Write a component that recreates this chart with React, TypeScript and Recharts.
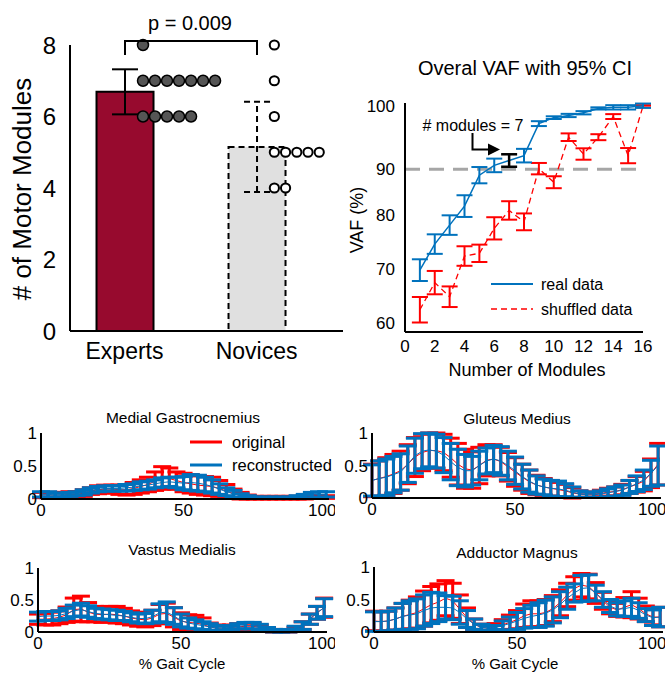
import React from 'react'
import { ComposedChart, Line, Bar, Cell, Scatter, XAxis, YAxis, ErrorBar, ReferenceLine } from 'recharts'

const FONT = '"Liberation Sans", Arial, Helvetica, sans-serif'
const RED = '#ff0000'
const BLUE = '#0072bd'
const AXIS = { stroke: '#000', strokeWidth: 2 }

// ---- panel A: number of motor modules ----
const groups = ['Experts', 'Novices']
const groupMeans = [6.69, 5.15]
const groupSds = [0.63, 1.26]
const expertScores = [8, 7, 7, 7, 7, 7, 7, 7, 6, 6, 6, 6, 6]
const noviceScores = [8, 7, 6, 5, 5, 5, 5, 5, 4, 4]
const pValueText = 'p = 0.009'

// ---- panel B: overall VAF ----
const moduleCounts = [1, 2, 3, 4, 5, 6, 7, 8, 9, 10, 11, 12, 13, 14, 15, 16]
const realVaf = [69.8, 74.6, 78.1, 81.6, 87.3, 89.1, 90.0, 90.9, 96.8, 97.9, 98.3, 98.8, 99.6, 99.8, 99.8, 100.1]
const realCi = [2.0, 1.8, 1.8, 2.0, 1.5, 1.25, 1.15, 1.25, 0.45, 0.25, 0.3, 0.3, 0.2, 0.4, 0.4, 0.4]
const shuffledVaf = [62.5, 67.5, 64.9, 72.4, 72.9, 77.5, 80.8, 78.7, 88.5, 86.0, 94.3, 91.2, 94.3, 98.1, 90.9, 100.0]
const shuffledCi = [2.35, 2.15, 1.9, 1.8, 1.6, 2.05, 1.7, 1.55, 1.05, 1.1, 0.7, 1.05, 0.55, 0.45, 1.4, 0.2]
const chosenModules = 7
const vafThreshold = 88.4
const vafYTicks = [60, 70, 80, vafThreshold, 100]
const vafYLabels = ['60', '70', '80', '90', '100']
const vafXTicks = [0, 2, 4, 6, 8, 10, 12, 14, 16]

// ---- panels C-F: muscle activations over the gait cycle ----
const gaitPct = [0, 2.5, 5, 7.5, 10, 12.5, 15, 17.5, 20, 22.5,
  25, 27.5, 30, 32.5, 35, 37.5, 40, 42.5, 45, 47.5,
  50, 52.5, 55, 57.5, 60, 62.5, 65, 67.5, 70, 72.5,
  75, 77.5, 80, 82.5, 85, 87.5, 90, 92.5, 95, 97.5, 100]

const mgOrigMean = [0.06, 0.06, 0.06, 0.06, 0.07, 0.07, 0.09, 0.12, 0.14, 0.15,
  0.15, 0.14, 0.14, 0.16, 0.19, 0.22, 0.27, 0.32, 0.31, 0.28,
  0.25, 0.23, 0.21, 0.2, 0.19, 0.16, 0.12, 0.08, 0.05, 0.03,
  0.02, 0.02, 0.02, 0.02, 0.02, 0.02, 0.02, 0.02, 0.03, 0.03, 0.03]
const mgOrigSd = [0.04, 0.04, 0.04, 0.04, 0.04, 0.04, 0.05, 0.05, 0.06, 0.06,
  0.06, 0.07, 0.08, 0.09, 0.1, 0.11, 0.14, 0.17, 0.16, 0.13,
  0.14, 0.14, 0.14, 0.14, 0.14, 0.12, 0.1, 0.07, 0.05, 0.03,
  0.02, 0.02, 0.02, 0.02, 0.02, 0.02, 0.02, 0.02, 0.02, 0.02, 0.02]
const mgRecMean = [0.07, 0.07, 0.06, 0.06, 0.07, 0.08, 0.1, 0.13, 0.15, 0.16,
  0.16, 0.16, 0.17, 0.18, 0.2, 0.21, 0.23, 0.25, 0.26, 0.25,
  0.24, 0.25, 0.24, 0.22, 0.19, 0.15, 0.11, 0.08, 0.05, 0.03,
  0.02, 0.02, 0.02, 0.02, 0.02, 0.02, 0.03, 0.04, 0.06, 0.07, 0.07]
const mgRecSd = [0.04, 0.04, 0.03, 0.03, 0.03, 0.03, 0.04, 0.04, 0.04, 0.04,
  0.04, 0.04, 0.05, 0.05, 0.06, 0.06, 0.06, 0.07, 0.07, 0.08,
  0.1, 0.12, 0.12, 0.11, 0.1, 0.08, 0.06, 0.05, 0.03, 0.02,
  0.01, 0.01, 0.01, 0.01, 0.01, 0.01, 0.02, 0.03, 0.04, 0.04, 0.04]

const gmOrigMean = [0.27, 0.3, 0.33, 0.37, 0.42, 0.52, 0.63, 0.7, 0.73, 0.73,
  0.7, 0.62, 0.52, 0.45, 0.43, 0.5, 0.58, 0.6, 0.56, 0.48,
  0.4, 0.32, 0.25, 0.2, 0.17, 0.15, 0.13, 0.11, 0.08, 0.06,
  0.05, 0.05, 0.07, 0.09, 0.1, 0.13, 0.17, 0.21, 0.26, 0.38, 0.52]
const gmOrigSd = [0.25, 0.27, 0.29, 0.3, 0.3, 0.3, 0.3, 0.28, 0.27, 0.27,
  0.28, 0.3, 0.32, 0.3, 0.28, 0.28, 0.24, 0.22, 0.22, 0.22,
  0.22, 0.2, 0.18, 0.15, 0.13, 0.12, 0.11, 0.1, 0.08, 0.05,
  0.04, 0.04, 0.05, 0.06, 0.07, 0.08, 0.1, 0.12, 0.15, 0.22, 0.32]
const gmRecMean = [0.27, 0.3, 0.32, 0.36, 0.4, 0.52, 0.65, 0.72, 0.74, 0.72,
  0.66, 0.56, 0.47, 0.42, 0.42, 0.5, 0.57, 0.6, 0.57, 0.5,
  0.42, 0.33, 0.26, 0.2, 0.17, 0.15, 0.14, 0.12, 0.09, 0.06,
  0.05, 0.05, 0.06, 0.08, 0.1, 0.12, 0.17, 0.22, 0.28, 0.38, 0.5]
const gmRecSd = [0.24, 0.27, 0.28, 0.28, 0.28, 0.28, 0.27, 0.27, 0.26, 0.26,
  0.27, 0.28, 0.28, 0.25, 0.22, 0.22, 0.2, 0.21, 0.22, 0.22,
  0.21, 0.19, 0.17, 0.14, 0.12, 0.12, 0.12, 0.1, 0.08, 0.05,
  0.04, 0.04, 0.05, 0.06, 0.07, 0.08, 0.1, 0.12, 0.15, 0.2, 0.3]

const vmOrigMean = [0.2, 0.2, 0.21, 0.23, 0.27, 0.35, 0.36, 0.31, 0.28, 0.27,
  0.28, 0.27, 0.25, 0.22, 0.2, 0.19, 0.22, 0.28, 0.29, 0.23,
  0.17, 0.15, 0.14, 0.12, 0.08, 0.06, 0.06, 0.07, 0.08, 0.09,
  0.09, 0.07, 0.04, 0.02, 0.01, 0.01, 0.04, 0.1, 0.2, 0.3, 0.38]
const vmOrigSd = [0.08, 0.09, 0.1, 0.1, 0.12, 0.18, 0.2, 0.15, 0.12, 0.12,
  0.12, 0.13, 0.12, 0.11, 0.11, 0.11, 0.12, 0.15, 0.16, 0.15,
  0.13, 0.12, 0.12, 0.1, 0.06, 0.05, 0.04, 0.04, 0.05, 0.05,
  0.05, 0.04, 0.03, 0.02, 0.01, 0.01, 0.03, 0.06, 0.08, 0.1, 0.15]
const vmRecMean = [0.24, 0.25, 0.25, 0.26, 0.29, 0.33, 0.35, 0.32, 0.29, 0.28,
  0.27, 0.26, 0.25, 0.23, 0.21, 0.21, 0.24, 0.3, 0.31, 0.25,
  0.18, 0.14, 0.12, 0.1, 0.08, 0.06, 0.06, 0.07, 0.09, 0.1,
  0.1, 0.08, 0.04, 0.02, 0.01, 0.02, 0.05, 0.1, 0.2, 0.3, 0.38]
const vmRecSd = [0.07, 0.07, 0.07, 0.07, 0.08, 0.09, 0.1, 0.09, 0.08, 0.08,
  0.08, 0.08, 0.07, 0.07, 0.07, 0.08, 0.1, 0.14, 0.16, 0.13,
  0.1, 0.08, 0.07, 0.06, 0.05, 0.04, 0.03, 0.03, 0.04, 0.05,
  0.05, 0.04, 0.03, 0.02, 0.01, 0.02, 0.04, 0.06, 0.08, 0.1, 0.14]

const amOrigMean = [0.17, 0.16, 0.17, 0.2, 0.24, 0.27, 0.3, 0.36, 0.42, 0.46,
  0.52, 0.48, 0.35, 0.22, 0.12, 0.07, 0.06, 0.08, 0.11, 0.15,
  0.19, 0.25, 0.28, 0.28, 0.3, 0.36, 0.45, 0.57, 0.67, 0.72,
  0.7, 0.6, 0.48, 0.38, 0.34, 0.38, 0.42, 0.36, 0.28, 0.23, 0.23]
const amOrigSd = [0.15, 0.15, 0.15, 0.17, 0.2, 0.22, 0.24, 0.27, 0.28, 0.28,
  0.27, 0.27, 0.22, 0.15, 0.08, 0.05, 0.04, 0.05, 0.08, 0.11,
  0.14, 0.18, 0.2, 0.2, 0.2, 0.2, 0.2, 0.18, 0.18, 0.18,
  0.19, 0.16, 0.13, 0.1, 0.1, 0.15, 0.2, 0.16, 0.12, 0.12, 0.15]
const amRecMean = [0.16, 0.16, 0.17, 0.2, 0.24, 0.26, 0.28, 0.33, 0.37, 0.38,
  0.38, 0.37, 0.3, 0.2, 0.12, 0.07, 0.06, 0.07, 0.1, 0.13,
  0.17, 0.21, 0.24, 0.26, 0.29, 0.34, 0.42, 0.52, 0.6, 0.67,
  0.68, 0.6, 0.5, 0.4, 0.35, 0.36, 0.38, 0.33, 0.26, 0.22, 0.23]
const amRecSd = [0.15, 0.15, 0.15, 0.17, 0.2, 0.22, 0.23, 0.24, 0.24, 0.22,
  0.18, 0.18, 0.18, 0.13, 0.08, 0.05, 0.03, 0.03, 0.07, 0.1,
  0.13, 0.15, 0.17, 0.19, 0.2, 0.2, 0.2, 0.17, 0.14, 0.2,
  0.2, 0.12, 0.12, 0.1, 0.1, 0.12, 0.14, 0.12, 0.1, 0.12, 0.15]

// beeswarm: dots with the same score sit side by side to the right of the bar centre
function swarm(scores: number[], group: number, start: number, step: number) {
  const seen: Record<number, number> = {}
  return scores.map((s) => {
    const k = seen[s] || 0
    seen[s] = k + 1
    return { x: group + start + k * step, y: s, group }
  })
}

const BAR_X_DOMAIN = [0.587, 2.655]

function ModulesChart() {
  const rows = groups.map((name, i) => ({
    x: i + 1,
    mean: groupMeans[i],
    errSolid: i === 0 ? groupSds[i] : null,
    errDash: i === 1 ? groupSds[i] : null,
  }))
  const dots = [...swarm(expertScores, 1, 0.14, 0.091), ...swarm(noviceScores, 2, 0.135, 0.085)]
  const tick = { fill: '#000', fontSize: 23, fontFamily: FONT }
  return (
    <div style={{ position: 'absolute', left: 0, top: 0 }}>
      <ComposedChart width={345} height={380} data={rows} margin={{ top: 45, right: 2, bottom: 0, left: 0 }}>
        <XAxis type="number" dataKey="x" domain={BAR_X_DOMAIN} ticks={[1, 2]}
          tickFormatter={(v: number) => groups[v - 1]} height={49} tickLine={false} tickMargin={6}
          axisLine={AXIS} tick={tick} />
        <XAxis xAxisId="dots" type="number" dataKey="x" domain={BAR_X_DOMAIN} hide />
        <YAxis type="number" domain={[0, 8]} ticks={[0, 2, 4, 6, 8]} width={70}
          tickLine={false} tickMargin={8} axisLine={AXIS} tick={{ ...tick, fontSize: 24 }} />
        <Bar dataKey="mean" barSize={57} isAnimationActive={false}>
          <Cell fill="#970a2e" stroke="#000" strokeWidth={2} />
          <Cell fill="#e0e0e0" stroke="#000" strokeWidth={2} strokeDasharray="6 4" />
          <ErrorBar dataKey="errSolid" direction="y" width={13} stroke="#000" strokeWidth={2} isAnimationActive={false} />
          <ErrorBar dataKey="errDash" direction="y" width={13} stroke="#000" strokeWidth={2} strokeDasharray="6 4" isAnimationActive={false} />
        </Bar>
        <Scatter xAxisId="dots" data={dots} dataKey="y" isAnimationActive={false}
          shape={(p: any) => p.payload.group === 1
            ? <circle cx={p.cx} cy={p.cy} r={5.5} fill="#555" stroke="#000" strokeWidth={1.5} />
            : <circle cx={p.cx} cy={p.cy} r={4.6} fill="#fff" stroke="#000" strokeWidth={2} />} />
      </ComposedChart>
    </div>
  )
}

function VafChart() {
  const rows = moduleCounts.map((m, i) => ({
    m,
    real: realVaf[i],
    realErr: m === chosenModules ? null : realCi[i],
    chosen: m === chosenModules ? realVaf[i] : null,
    chosenErr: m === chosenModules ? realCi[i] : null,
    shuf: shuffledVaf[i],
    shufErr: shuffledCi[i],
  }))
  const tick = { fill: '#000', fontSize: 17, fontFamily: FONT }
  return (
    <div style={{ position: 'absolute', left: 340, top: 60 }}>
      <ComposedChart width={325} height={320} data={rows} margin={{ top: 43, right: 22, bottom: 0, left: 0 }}>
        <XAxis type="number" dataKey="m" domain={[0, 16]} ticks={vafXTicks} height={48}
          tickLine={false} tickMargin={2} axisLine={AXIS} tick={tick} />
        <YAxis type="number" domain={[58.4, 100.6]} ticks={vafYTicks} width={65}
          tickFormatter={(v: number, i: number) => vafYLabels[i]} tickLine={false} tickMargin={4}
          axisLine={AXIS} tick={tick} />
        <ReferenceLine y={vafThreshold} stroke="#a6a6a6" strokeWidth={3} strokeDasharray="15 9" />
        <Line dataKey="shuf" stroke={RED} strokeWidth={1.3} strokeDasharray="6 4" dot={false} activeDot={false} isAnimationActive={false}>
          <ErrorBar dataKey="shufErr" direction="y" width={8} stroke={RED} strokeWidth={2} isAnimationActive={false} />
        </Line>
        <Line dataKey="real" stroke={BLUE} strokeWidth={1.5} dot={false} activeDot={false} isAnimationActive={false}>
          <ErrorBar dataKey="realErr" direction="y" width={8} stroke={BLUE} strokeWidth={2} isAnimationActive={false} />
        </Line>
        <Line dataKey="chosen" stroke="none" dot={false} activeDot={false} isAnimationActive={false}>
          <ErrorBar dataKey="chosenErr" direction="y" width={8} stroke="#000" strokeWidth={2.5} isAnimationActive={false} />
        </Line>
      </ComposedChart>
    </div>
  )
}

type Box = { left: number; top: number; yw: number; mt: number; mr: number; xh: number }

function MusclePanel({ box, om, os, rm, rs }: { box: Box; om: number[]; os: number[]; rm: number[]; rs: number[] }) {
  const rows = gaitPct.map((x, i) => ({ x, om: om[i], os: os[i], rm: rm[i], rs: rs[i] }))
  const tick = { fill: '#000', fontSize: 17, fontFamily: FONT }
  return (
    <div style={{ position: 'absolute', left: box.left, top: box.top }}>
      <ComposedChart width={335} height={130} data={rows} margin={{ top: box.mt, right: box.mr, bottom: 0, left: 0 }}>
        <XAxis type="number" dataKey="x" domain={[0, 101]} ticks={[0, 50, 100]} height={box.xh}
          tickLine={false} tickSize={0} tickMargin={5} axisLine={AXIS} tick={tick} />
        <YAxis type="number" domain={[0, 1]} ticks={[0, 0.5, 1]} allowDataOverflow width={box.yw}
          tickLine={false} tickSize={0} tickMargin={4} axisLine={AXIS} tick={tick} />
        <Line dataKey="om" stroke={RED} strokeWidth={1} dot={false} activeDot={false} isAnimationActive={false}>
          <ErrorBar dataKey="os" direction="y" width={9} stroke={RED} strokeWidth={3} isAnimationActive={false} />
        </Line>
        <Line dataKey="rm" stroke={BLUE} strokeWidth={1} dot={false} activeDot={false} isAnimationActive={false}>
          <ErrorBar dataKey="rs" direction="y" width={9} stroke={BLUE} strokeWidth={3} isAnimationActive={false} />
        </Line>
      </ComposedChart>
    </div>
  )
}

function Overlay() {
  const t = { fontFamily: FONT, fill: '#000' }
  return (
    <svg width={665} height={673} style={{ position: 'absolute', left: 0, top: 0, pointerEvents: 'none' }}>
      {/* panel A annotations */}
      <text x={190} y={23} fontSize={20} textAnchor="middle" dominantBaseline="central" {...t}>{pValueText}</text>
      <path d="M125,55 V41 H257 V55" fill="none" stroke="#000" strokeWidth={2} />
      <text x={0} y={0} fontSize={26} textAnchor="middle" dominantBaseline="central" transform="translate(22,189) rotate(-90)" {...t}># of Motor Modules</text>

      {/* panel B annotations */}
      <text x={525} y={68} fontSize={20} textAnchor="middle" dominantBaseline="central" {...t}>Overal VAF with 95% CI</text>
      <text x={0} y={0} fontSize={18} textAnchor="middle" dominantBaseline="central" transform="translate(357,220) rotate(-90)" {...t}>VAF (%)</text>
      <text x={527} y={370} fontSize={18} textAnchor="middle" dominantBaseline="central" {...t}>Number of Modules</text>
      <text x={473} y={125} fontSize={16} textAnchor="middle" dominantBaseline="central" {...t}># modules = {chosenModules}</text>
      <path d="M472.5,133 V149.5 H489" fill="none" stroke="#000" strokeWidth={2} />
      <path d="M488,143.5 L500,149.5 L488,155.5 Z" fill="#000" />
      <line x1={491} y1={284} x2={533} y2={284} stroke={BLUE} strokeWidth={2} />
      <text x={541} y={284} fontSize={16} dominantBaseline="central" {...t}>real data</text>
      <line x1={491} y1={309} x2={533} y2={309} stroke={RED} strokeWidth={1.5} strokeDasharray="6 4" />
      <text x={541} y={309} fontSize={16} dominantBaseline="central" {...t}>shuffled data</text>

      {/* muscle panels */}
      <text x={183} y={417} fontSize={15.5} textAnchor="middle" dominantBaseline="central" {...t}>Medial Gastrocnemius</text>
      <text x={517} y={418} fontSize={15.5} textAnchor="middle" dominantBaseline="central" {...t}>Gluteus Medius</text>
      <text x={182} y={549} fontSize={15.5} textAnchor="middle" dominantBaseline="central" {...t}>Vastus Medialis</text>
      <text x={517} y={552} fontSize={15.5} textAnchor="middle" dominantBaseline="central" {...t}>Adductor Magnus</text>
      <line x1={190} y1={442} x2={222} y2={442} stroke={RED} strokeWidth={3} />
      <text x={232} y={442} fontSize={16.5} dominantBaseline="central" {...t}>original</text>
      <line x1={190} y1={465} x2={222} y2={465} stroke={BLUE} strokeWidth={3} />
      <text x={232} y={465} fontSize={16.5} dominantBaseline="central" {...t}>reconstructed</text>
      <text x={182} y={663} fontSize={15} textAnchor="middle" dominantBaseline="central" {...t}>% Gait Cycle</text>
      <text x={515} y={663} fontSize={15} textAnchor="middle" dominantBaseline="central" {...t}>% Gait Cycle</text>
    </svg>
  )
}

export default function App() {
  return (
    <div style={{ position: 'absolute', left: 0, top: 0, width: 665, height: 673, overflow: 'hidden', background: '#fff', fontFamily: FONT }}>
      <ModulesChart />
      <VafChart />
      <MusclePanel box={{ left: 0, top: 405, yw: 41, mt: 28, mr: 6, xh: 36 }} om={mgOrigMean} os={mgOrigSd} rm={mgRecMean} rs={mgRecSd} />
      <MusclePanel box={{ left: 330, top: 405, yw: 42, mt: 28, mr: 4, xh: 37 }} om={gmOrigMean} os={gmOrigSd} rm={gmRecMean} rs={gmRecSd} />
      <MusclePanel box={{ left: 0, top: 540, yw: 38, mt: 28, mr: 8, xh: 38 }} om={vmOrigMean} os={vmOrigSd} rm={vmRecMean} rs={vmRecSd} />
      <MusclePanel box={{ left: 330, top: 540, yw: 44, mt: 27, mr: 2, xh: 38 }} om={amOrigMean} os={amOrigSd} rm={amRecMean} rs={amRecSd} />
      <Overlay />
    </div>
  )
}
